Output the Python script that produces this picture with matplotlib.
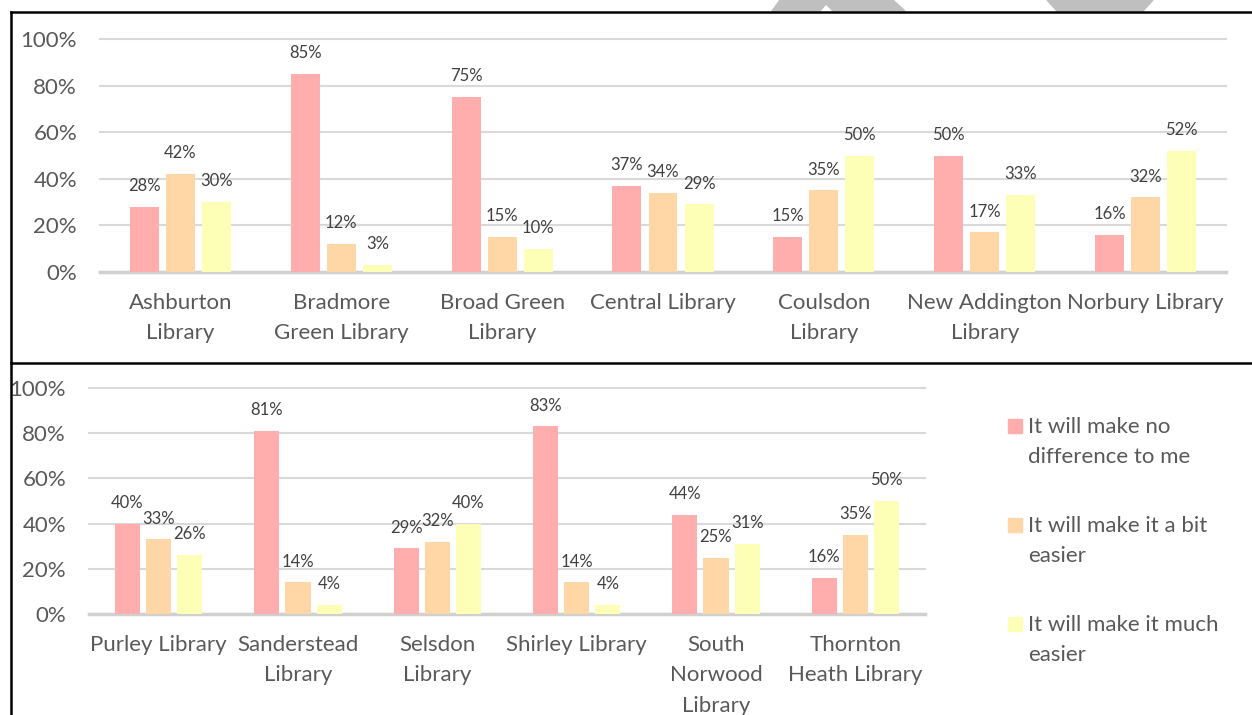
import numpy as np
import matplotlib.pyplot as plt
from matplotlib.patches import Rectangle, Polygon
from matplotlib.lines import Line2D

plt.rcParams['font.family'] = ['Lato', 'DejaVu Sans']

# --------------------
# Data
# --------------------
series_names = ['It will make no\ndifference to me',
                'It will make it a bit\neasier',
                'It will make it much\neasier']
colors = ['#FFADAD', '#FFD6A5', '#FDFFB6']

top_libraries = ['Ashburton\nLibrary', 'Bradmore\nGreen Library', 'Broad Green\nLibrary',
                 'Central Library', 'Coulsdon\nLibrary', 'New Addington\nLibrary',
                 'Norbury Library']
top_no_diff = [28, 85, 75, 37, 15, 50, 16]
top_bit_easier = [42, 12, 15, 34, 35, 17, 32]
top_much_easier = [30, 3, 10, 29, 50, 33, 52]

bottom_libraries = ['Purley Library', 'Sanderstead\nLibrary', 'Selsdon\nLibrary',
                    'Shirley Library', 'South\nNorwood\nLibrary', 'Thornton\nHeath Library']
bottom_no_diff = [40, 81, 29, 83, 44, 16]
bottom_bit_easier = [33, 14, 32, 14, 25, 35]
bottom_much_easier = [26, 4, 40, 4, 31, 50]

yticks = [0, 20, 40, 60, 80, 100]

W, H = 1252, 715
TXT = '#595959'
LS = 1.65


def fx(x):
    return x / W


def fy(y):
    return 1 - y / H


def draw_panel(ax, labels, series):
    n = len(labels)
    x = np.arange(n)
    offsets = [-0.224, 0, 0.224]
    for vals, off, col in zip(series, offsets, colors):
        bars = ax.bar(x + off, vals, width=0.18, color=col, zorder=3)
        for b, v in zip(bars, vals):
            ax.annotate(f'{v}%', (b.get_x() + b.get_width() / 2, b.get_height()),
                        xytext=(0, 15), textcoords='offset points',
                        ha='center', va='center', fontsize=12, color='#404040')
    ax.set_xlim(-0.5, n - 0.5)
    ax.set_ylim(0, 100)
    ax.set_yticks(yticks)
    ax.set_yticklabels([f'{t}%' for t in yticks])
    ax.set_xticks(x)
    ax.set_xticklabels(labels, linespacing=LS)
    ax.yaxis.grid(True, color='#D9D9D9', lw=1.5)
    for gl in ax.get_ygridlines():
        gl.set_clip_on(False)
    ax.set_axisbelow(True)
    for s in ax.spines.values():
        s.set_visible(False)
    ax.axhline(0, color='#D0D0D0', lw=2.5, zorder=2, clip_on=False)
    ax.tick_params(axis='y', length=0, labelsize=16, labelcolor=TXT, pad=16.5)
    ax.tick_params(axis='x', length=0, labelsize=16, labelcolor=TXT, pad=15)


fig = plt.figure(figsize=(12.52, 7.15), dpi=100)

# top panel
ax1 = fig.add_axes([fx(100), fy(272), fx(1226) - fx(100), fy(39) - fy(272)])
draw_panel(ax1, top_libraries, [top_no_diff, top_bit_easier, top_much_easier])

# bottom panel
ax2 = fig.add_axes([fx(89), fy(614), fx(925) - fx(89), fy(388) - fy(614)])
draw_panel(ax2, bottom_libraries, [bottom_no_diff, bottom_bit_easier, bottom_much_easier])

# legend (drawn by hand so the square sits on the first line)
for i, (name, col) in enumerate(zip(series_names, colors)):
    y0 = 419 + i * 99
    fig.patches.append(Rectangle((fx(1008), fy(y0 + 14)), fx(14), 14 / H,
                                 transform=fig.transFigure, color=col))
    fig.text(fx(1028), fy(y0 - 2), name, ha='left', va='top', fontsize=16,
             color=TXT, linespacing=LS)

# watermark fragments above the frame
wm1 = [(780, 0), (893, 0), (905, 11), (833, 11), (826, 4), (820, 11), (772, 11)]
wm2 = [(1047, 0), (1153, 0), (1143, 11), (1057, 11)]
for pts in (wm1, wm2):
    fig.patches.append(Polygon([(fx(a), fy(b)) for a, b in pts], closed=True,
                               transform=fig.transFigure, color='#BFBFBF'))

# frame lines
for (xa, ya), (xb, yb) in [((10.5, 11.5), (1252, 11.5)),
                           ((10.5, 11.5), (10.5, 715)),
                           ((10.5, 363), (1252, 363))]:
    fig.add_artist(Line2D([fx(xa), fx(xb)], [fy(ya), fy(yb)],
                          transform=fig.transFigure, color='black', lw=1.8))

fig.savefig('out.png', dpi=100)
